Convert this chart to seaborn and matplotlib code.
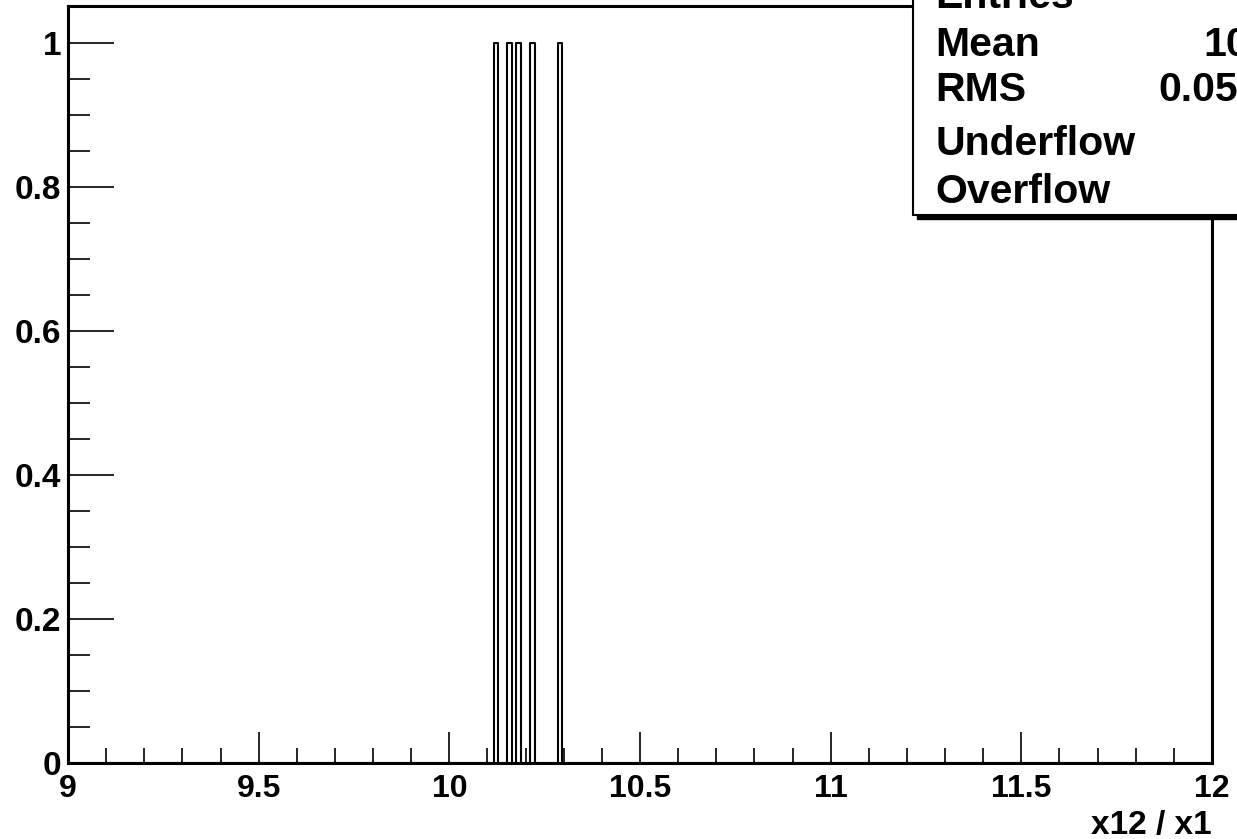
import numpy as np
import pandas as pd
import matplotlib
matplotlib.use("Agg")
import matplotlib.pyplot as plt
from matplotlib.patches import Rectangle
from matplotlib.ticker import MultipleLocator, FormatStrFormatter
import seaborn as sns

# ---- data (one entry per event) ----
ratio_values = [10.122, 10.158, 10.182, 10.218, 10.290]
n_bins = 250
x_range = (9.0, 12.0)
x_title = "x12 / x1"
stat_labels = ["Entries", "Mean", "RMS", "Underflow", "Overflow"]
stat_values = ["5", "10.19", "0.05703", "0", "0"]

sns.set_style("white")
plt.rcParams["font.family"] = ["Liberation Sans", "DejaVu Sans"]
plt.rcParams["font.weight"] = "bold"
for k in ["text.color", "axes.labelcolor", "xtick.color", "ytick.color"]:
    plt.rcParams[k] = "black"

W, H = 1237, 839
fig = plt.figure(figsize=(W / 100, H / 100), dpi=100)
L, R, T, B = 68, 1212, 6, 763
ax = fig.add_axes([L / W, 1 - B / H, (R - L) / W, (B - T) / H])

df = pd.DataFrame({"x": ratio_values})
sns.histplot(data=df, x="x", bins=n_bins, binrange=x_range, element="step",
             fill=False, color="black", linewidth=1.5, ax=ax)

ax.set_xlim(*x_range)
ax.set_ylim(0, 1.051)
ax.set_ylabel("")
ax.set_xlabel(x_title, fontsize=24, fontweight="bold", loc="right",
              labelpad=4, color="black")

for s in ax.spines.values():
    s.set_linewidth(2.2)
    s.set_color("black")

ax.xaxis.set_major_locator(MultipleLocator(0.5))
ax.xaxis.set_minor_locator(MultipleLocator(0.1))
ax.yaxis.set_major_locator(MultipleLocator(0.2))
ax.yaxis.set_minor_locator(MultipleLocator(0.05))
ax.xaxis.set_major_formatter(FormatStrFormatter("%g"))
ax.yaxis.set_major_formatter(FormatStrFormatter("%g"))

ax.tick_params(axis="x", which="major", direction="in", length=22, width=1.2,
               labelsize=23, pad=8, bottom=True, top=False, colors="black")
ax.tick_params(axis="x", which="minor", direction="in", length=11, width=1.2,
               bottom=True, top=False, colors="black")
ax.tick_params(axis="y", which="major", direction="in", length=33, width=1.2,
               labelsize=24, pad=5, left=True, right=False, colors="black")
ax.tick_params(axis="y", which="minor", direction="in", length=16, width=1.2,
               left=True, right=False, colors="black")
for lab in ax.get_xticklabels() + ax.get_yticklabels():
    lab.set_fontweight("bold")

# ---- stats box (extends beyond the figure edge) ----
bx0, bx1, by_top, by_bot = 913, 1330, -60, 215
sh = 4
fig.patches.append(Rectangle(((bx0 + sh) / W, 1 - (by_bot + sh) / H),
                             (bx1 - bx0) / W, (by_bot - by_top) / H,
                             transform=fig.transFigure, facecolor="black",
                             edgecolor="black", zorder=5))
fig.patches.append(Rectangle((bx0 / W, 1 - by_bot / H),
                             (bx1 - bx0) / W, (by_bot - by_top) / H,
                             transform=fig.transFigure, facecolor="white",
                             edgecolor="black", linewidth=1.5, zorder=6))
baselines = [8, 56, 101, 155, 203]
val_right = 1306
for lab, val, yb in zip(stat_labels, stat_values, baselines):
    fig.text(935 / W, 1 - yb / H, lab, fontsize=29.5, fontweight="bold",
             ha="left", va="baseline", zorder=7, color="black")
    fig.text(val_right / W, 1 - yb / H, val, fontsize=29.5, fontweight="bold",
             ha="right", va="baseline", zorder=7, color="black")

fig.savefig("out.png", dpi=100)
